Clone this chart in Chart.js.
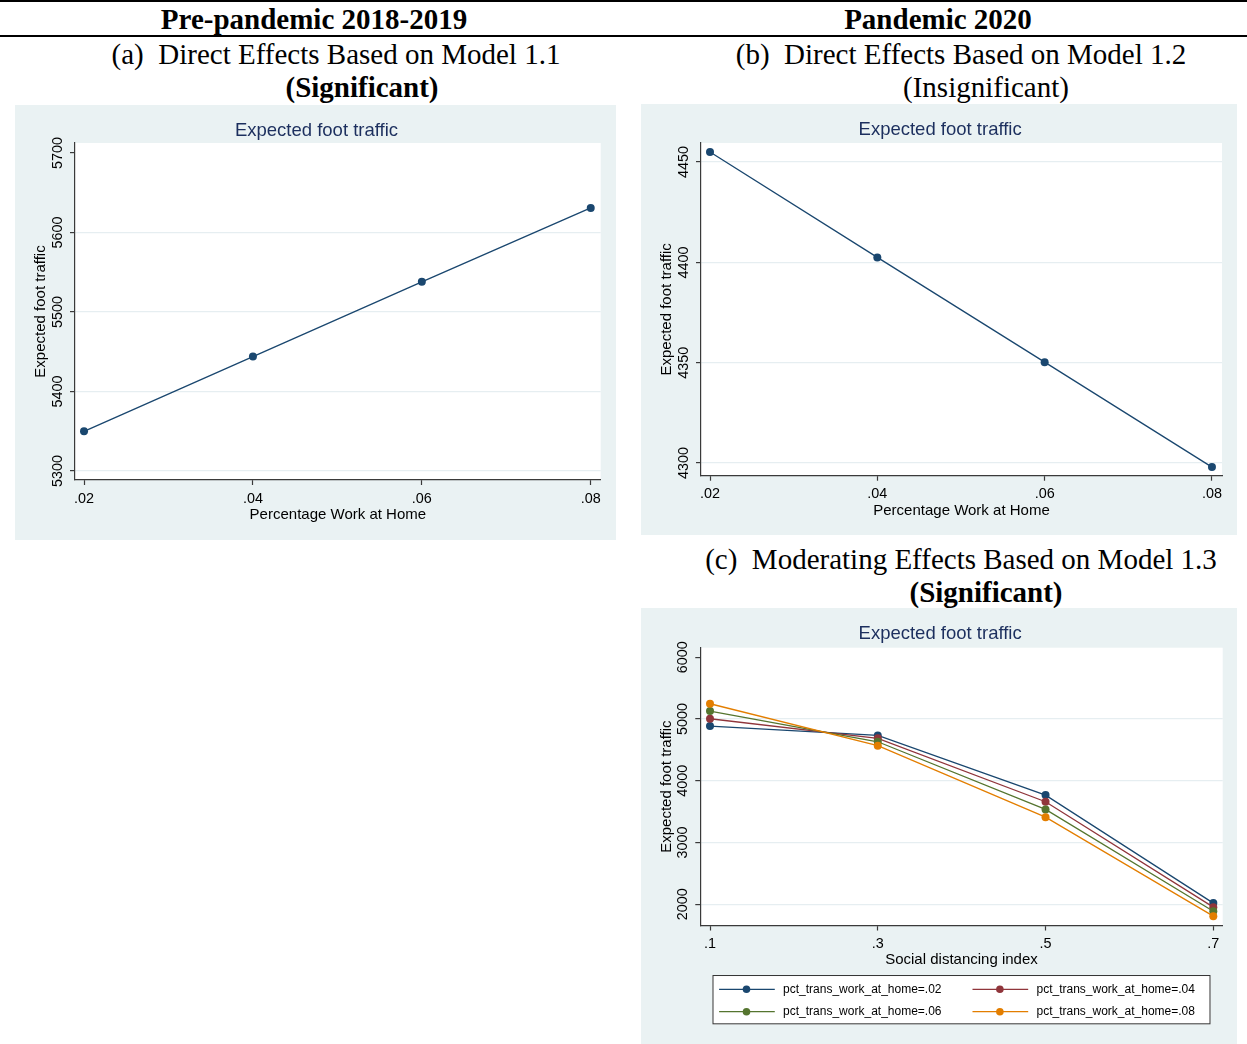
<!DOCTYPE html>
<html>
<head>
<meta charset="utf-8">
<script src="https://cdn.jsdelivr.net/npm/chart.js@4.4.1/dist/chart.umd.min.js"></script>
<style>
  html, body { margin: 0; padding: 0; background: #fff; }
  body { width: 1247px; height: 1044px; position: relative; overflow: hidden; }
  .rule { position: absolute; left: 0; width: 1247px; background: #000; }
  .hd { position: absolute; width: 620px; text-align: center; font-family: "Liberation Serif", "Times New Roman", serif;
        font-size: 29px; line-height: 29px; white-space: nowrap; color: #000; }
  .b { font-weight: bold; }
  .panel { position: absolute; background: #eaf2f3; }
  .panel canvas { display: block; }
</style>
</head>
<body>
<div class="rule" style="top:0;height:1.5px"></div>
<div class="rule" style="top:35px;height:2px"></div>

<div class="hd b" style="left:4px;top:4.7px">Pre-pandemic 2018-2019</div>
<div class="hd b" style="left:628px;top:4.7px">Pandemic 2020</div>
<div class="hd" style="left:26px;top:40.2px">(a)&nbsp; Direct Effects Based on Model 1.1</div>
<div class="hd b" style="left:52px;top:72.7px">(Significant)</div>
<div class="hd" style="left:651px;top:40.2px">(b)&nbsp; Direct Effects Based on Model 1.2</div>
<div class="hd" style="left:676px;top:72.7px">(Insignificant)</div>
<div class="hd" style="left:651px;top:544.7px">(c)&nbsp; Moderating Effects Based on Model 1.3</div>
<div class="hd b" style="left:676px;top:577.7px">(Significant)</div>

<div class="panel" style="left:15px;top:105px;width:601px;height:435px"><canvas id="chartA" width="601" height="435"></canvas></div>
<div class="panel" style="left:641px;top:104px;width:596px;height:431px"><canvas id="chartB" width="596" height="431"></canvas></div>
<div class="panel" style="left:641px;top:608px;width:596px;height:436px"><canvas id="chartC" width="596" height="436"></canvas></div>

<script>
// x axis: share of workers working at home
const wfhTicks = [0.02, 0.04, 0.06, 0.08];
const wfhTickLabels = ['.02', '.04', '.06', '.08'];

// (a) pre-pandemic direct effect
const preTraffic = [5350, 5444, 5538, 5631];
const preYTicks = [5300, 5400, 5500, 5600, 5700];

// (b) pandemic direct effect
const pandemicTraffic = [4455, 4402.5, 4350.3, 4298];
const pandemicYTicks = [4300, 4350, 4400, 4450];

// (c) moderating effect, x = social distancing index
const sdiTicks = [0.1, 0.3, 0.5, 0.7];
const sdiTickLabels = ['.1', '.3', '.5', '.7'];
const wfh02 = [4886, 4735, 3768, 2018];
const wfh04 = [5005, 4687, 3660, 1953];
const wfh06 = [5130, 4632, 3536, 1886];
const wfh08 = [5248, 4568, 3411, 1807];
const modLabels = ['pct_trans_work_at_home=.02', 'pct_trans_work_at_home=.04',
                   'pct_trans_work_at_home=.06', 'pct_trans_work_at_home=.08'];
const modColors = ['#1a476f', '#90353b', '#55752f', '#e37e00'];
const modYTicks = [2000, 3000, 4000, 5000, 6000];

const FONT = '"Liberation Sans", Arial, sans-serif';
const NAVY = '#1a476f';
const TITLE_COLOR = '#1c2f5e';
const AXIS = '#3a3a3a';
const GRID = '#e6eef1';

function pts(xs, ys) {
  return xs.map((x, i) => ({ x: x, y: ys[i] }));
}

function series(label, xs, ys, color, order) {
  return {
    label: label, data: pts(xs, ys), order: order,
    borderColor: color, backgroundColor: color, borderWidth: 1.3,
    pointRadius: 4, pointBorderWidth: 0, pointBackgroundColor: color,
    tension: 0, fill: false
  };
}

const whiteArea = {
  id: 'whiteArea',
  beforeDraw(chart) {
    const a = chart.chartArea, ctx = chart.ctx;
    ctx.save();
    ctx.fillStyle = '#fff';
    ctx.fillRect(a.left, a.top, a.right - a.left, a.bottom - a.top);
    ctx.restore();
  }
};

// boxed two-column legend under panel (c), as in the Stata output
const boxLegend = {
  id: 'boxLegend',
  afterDraw(chart) {
    const a = chart.chartArea, ctx = chart.ctx;
    const bx = (a.left + a.right) / 2 - 249, by = a.bottom + 49.5;
    ctx.save();
    ctx.fillStyle = '#fff';
    ctx.fillRect(bx, by, 498, 49.3);
    ctx.strokeStyle = '#333';
    ctx.lineWidth = 1;
    ctx.strokeRect(bx + 0.5, by + 0.5, 497, 48.3);
    ctx.font = '12px ' + FONT;
    ctx.textBaseline = 'middle';
    modLabels.forEach((lab, i) => {
      const x = bx + (i % 2) * 253.4;
      const y = by + (i < 2 ? 14.3 : 36.7);
      ctx.strokeStyle = modColors[i];
      ctx.lineWidth = 1.3;
      ctx.beginPath();
      ctx.moveTo(x + 6.6, y);
      ctx.lineTo(x + 62.3, y);
      ctx.stroke();
      ctx.fillStyle = modColors[i];
      ctx.beginPath();
      ctx.arc(x + 34, y, 3.8, 0, Math.PI * 2);
      ctx.fill();
      ctx.fillStyle = '#000';
      ctx.fillText(lab, x + 70.6, y);
    });
    ctx.restore();
  }
};

function makeChart(id, o) {
  return new Chart(document.getElementById(id), {
    type: 'line',
    data: { datasets: o.datasets },
    plugins: [whiteArea].concat(o.extra || []),
    options: {
      responsive: false,
      animation: false,
      events: [],
      layout: { padding: o.pad },
      plugins: {
        legend: { display: false },
        tooltip: { enabled: false },
        title: {
          display: true, text: 'Expected foot traffic', color: TITLE_COLOR,
          font: { family: FONT, size: 18.5, weight: 'normal' }, padding: o.titlePad
        }
      },
      scales: {
        x: {
          type: 'linear', min: o.xMin, max: o.xMax,
          afterBuildTicks: s => { s.ticks = o.xTicks.map(v => ({ value: v })); },
          grid: { drawOnChartArea: false, tickLength: 5, tickColor: AXIS, tickWidth: 1.2 },
          border: { display: true, color: AXIS, width: 1.2 },
          ticks: {
            color: '#000', font: { family: FONT, size: 14.4 }, padding: 5,
            maxRotation: 0, autoSkip: false, callback: (v, i) => o.xLabels[i]
          },
          title: {
            display: true, text: o.xTitle, color: '#000',
            font: { family: FONT, size: 15 }, padding: { top: -6.5, bottom: 0 }
          }
        },
        y: {
          type: 'linear', min: o.yMin, max: o.yMax,
          afterBuildTicks: s => { s.ticks = o.yTicks.map(v => ({ value: v })); },
          grid: {
            color: c => (c.tick && c.tick.value === o.noGridAt) ? 'rgba(0,0,0,0)' : GRID,
            lineWidth: 1.2, tickLength: 5, tickColor: AXIS, tickWidth: 1.2
          },
          border: { display: true, color: AXIS, width: 1.2 },
          ticks: {
            color: '#000', font: { family: FONT, size: 14.4 }, padding: -4,
            minRotation: 90, maxRotation: 90, crossAlign: 'center', autoSkip: false,
            callback: v => String(v)
          },
          title: {
            display: true, text: 'Expected foot traffic', color: '#000',
            font: { family: FONT, size: 15 }, padding: { top: 0, bottom: 10.4 }
          }
        }
      }
    }
  });
}

makeChart('chartA', {
  datasets: [series('Expected foot traffic', wfhTicks, preTraffic, NAVY, 1)],
  xTicks: wfhTicks, xLabels: wfhTickLabels, xMin: 0.01893, xMax: 0.08118,
  yTicks: preYTicks, yMin: 5288.7, yMax: 5712.6, noGridAt: 5700,
  xTitle: 'Percentage Work at Home',
  pad: { left: 17.3, right: 15.3, top: 0, bottom: 16.2 },
  titlePad: { top: 14.4, bottom: 1.4 }
});

makeChart('chartB', {
  datasets: [series('Expected foot traffic', wfhTicks, pandemicTraffic, NAVY, 1)],
  xTicks: wfhTicks, xLabels: wfhTickLabels, xMin: 0.01892, xMax: 0.0812,
  yTicks: pandemicYTicks, yMin: 4293.7, yMax: 4459.5, noGridAt: null,
  xTitle: 'Percentage Work at Home',
  pad: { left: 17.3, right: 15, top: 0, bottom: 15.5 },
  titlePad: { top: 15, bottom: 1.8 }
});

makeChart('chartC', {
  datasets: [
    series(modLabels[0], sdiTicks, wfh02, modColors[0], 4),
    series(modLabels[1], sdiTicks, wfh04, modColors[1], 3),
    series(modLabels[2], sdiTicks, wfh06, modColors[2], 2),
    series(modLabels[3], sdiTicks, wfh08, modColors[3], 1)
  ],
  xTicks: sdiTicks, xLabels: sdiTickLabels, xMin: 0.0884, xMax: 0.7112,
  yTicks: modYTicks, yMin: 1655, yMax: 6156, noGridAt: 6000,
  xTitle: 'Social distancing index',
  pad: { left: 16.6, right: 14.3, top: 0, bottom: 74.7 },
  titlePad: { top: 15, bottom: 2.5 },
  extra: [boxLegend]
});
</script>
</body>
</html>
